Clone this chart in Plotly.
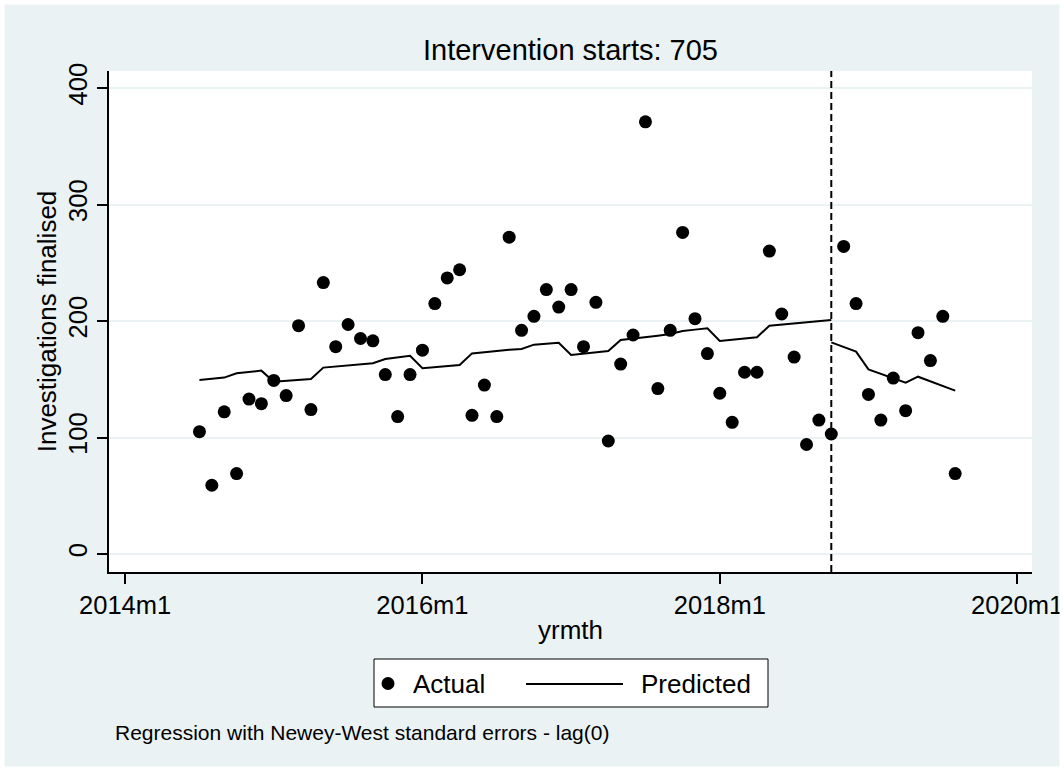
import plotly.graph_objects as go

# Stata monthly dates (%tm): 648 = 2014m1
months = list(range(654, 716))
actual = [105, 59, 122, 69, 133, 129, 149, 136, 196, 124, 233, 178, 197, 185, 183,
          154, 118, 154, 175, 215, 237, 244, 119, 145, 118, 272, 192, 204, 227, 212,
          227, 178, 216, 97, 163, 188, 371, 142, 192, 276, 202, 172, 138, 113, 156,
          156, 260, 206, 169, 94, 115, 103, 264, 215, 137, 115, 151, 123, 190, 166,
          204, 69]

months_pre = list(range(654, 706))
pred_pre = [149.4, 150.2, 151.4, 155.1, 156.2, 157.4, 147.9, 148.8, 149.4, 150.2,
            160.0, 160.8, 161.6, 162.5, 163.7, 167.4, 168.8, 170.2, 159.4, 160.2,
            161.4, 162.2, 172.2, 173.4, 174.5, 175.4, 176.0, 179.7, 180.5, 181.4,
            170.8, 172.0, 173.1, 174.2, 183.7, 184.8, 186.0, 187.4, 188.8, 191.4,
            192.6, 193.7, 182.8, 184.0, 184.9, 186.0, 196.0, 197.0, 198.0, 199.0,
            199.9, 200.9]
months_post = list(range(705, 716))
pred_post = [181.7, 177.7, 173.7, 158.5, 154.8, 150.8, 147.1, 152.2, 148.2, 144.2, 140.2]

intervention = 705
x_tickvals = [648, 672, 696, 720]
x_ticktext = ["2014m1", "2016m1", "2018m1", "2020m1"]
y_tickvals = [0, 100, 200, 300, 400]

title_text = "Intervention starts: 705"
note_text = "Regression with Newey-West standard errors - lag(0)"
legend_labels = ["Actual", "Predicted"]

FONT = "Arial, 'Liberation Sans', Helvetica, sans-serif"
BG = "#EAF2F3"
W, H = 1064, 771
L, R, T, B = 109, 32, 71, 199
PW, PH = W - L - R, H - T - B


def px(x):
    return (x - L) / PW


def py(y):
    return (H - B - y) / PH


fig = go.Figure()
fig.add_trace(go.Scatter(x=months, y=actual, mode="markers", name=legend_labels[0],
                         marker=dict(color="black", size=13, line=dict(width=0)),
                         showlegend=False))
fig.add_trace(go.Scatter(x=months_pre, y=pred_pre, mode="lines", name=legend_labels[1],
                         line=dict(color="black", width=2), showlegend=False))
fig.add_trace(go.Scatter(x=months_post, y=pred_post, mode="lines", name=legend_labels[1],
                         line=dict(color="black", width=2), showlegend=False))

shapes = []
# intervention line
shapes.append(dict(type="line", xref="x", yref="paper", x0=intervention, x1=intervention,
                   y0=0, y1=1, line=dict(color="black", width=2, dash="7px,4px")))
# outer white border
shapes.append(dict(type="rect", xref="paper", yref="paper",
                   x0=px(0), x1=px(W), y0=py(H), y1=py(0),
                   line=dict(color="white", width=9), fillcolor="rgba(0,0,0,0)"))
# legend box
shapes.append(dict(type="rect", xref="paper", yref="paper",
                   x0=px(374), x1=px(768), y0=py(707), y1=py(659),
                   line=dict(color="black", width=1), fillcolor="white"))
shapes.append(dict(type="circle", xref="paper", yref="paper",
                   x0=px(381.5), x1=px(394.5), y0=py(690), y1=py(677),
                   line=dict(color="black", width=0), fillcolor="black"))
shapes.append(dict(type="line", xref="paper", yref="paper",
                   x0=px(526), x1=px(623), y0=py(684), y1=py(684),
                   line=dict(color="black", width=2)))

annotations = [
    dict(text=legend_labels[0], xref="paper", yref="paper", x=px(411), y=py(684),
         xanchor="left", yanchor="middle", showarrow=False,
         font=dict(size=26, color="black", family=FONT)),
    dict(text=legend_labels[1], xref="paper", yref="paper", x=px(639), y=py(684),
         xanchor="left", yanchor="middle", showarrow=False,
         font=dict(size=26, color="black", family=FONT)),
    dict(text=note_text, xref="paper", yref="paper", x=px(113), y=py(732),
         xanchor="left", yanchor="middle", showarrow=False,
         font=dict(size=21, color="black", family=FONT)),
]

fig.update_layout(
    width=W, height=H,
    autosize=False,
    margin=dict(l=L, r=R, t=T, b=B, pad=0, autoexpand=False),
    paper_bgcolor=BG, plot_bgcolor="white",
    font=dict(family=FONT, color="black"),
    title=dict(text=title_text, x=570.5 / W, xanchor="center",
               y=1 - 50 / H, yanchor="middle", font=dict(size=29, color="black", family=FONT)),
    showlegend=False,
    shapes=shapes,
    annotations=annotations,
    xaxis=dict(range=[646.7, 721.2], tickvals=x_tickvals, ticktext=x_ticktext,
               ticks="outside", ticklen=10, tickwidth=1.5, tickcolor="black",
               showline=True, linecolor="black", linewidth=1.5, showgrid=False,
               zeroline=False, automargin=False, tickfont=dict(size=25.5, color="black"),
               title=dict(text="yrmth", font=dict(size=26, color="black"), standoff=2)),
    yaxis=dict(range=[-15.45, 414.6], tickvals=y_tickvals, tickangle=-90,
               ticks="outside", ticklen=10, tickwidth=1.5, tickcolor="black",
               showline=True, linecolor="black", linewidth=1.5, showgrid=True,
               gridcolor=BG, gridwidth=2, zeroline=False, automargin=False,
               tickfont=dict(size=25.5, color="black"),
               title=dict(text="Investigations finalised", font=dict(size=26, color="black"),
                          standoff=0)),
)

fig.write_html("out.html", config={"displayModeBar": False},
               post_script="document.body.style.margin='0';")
